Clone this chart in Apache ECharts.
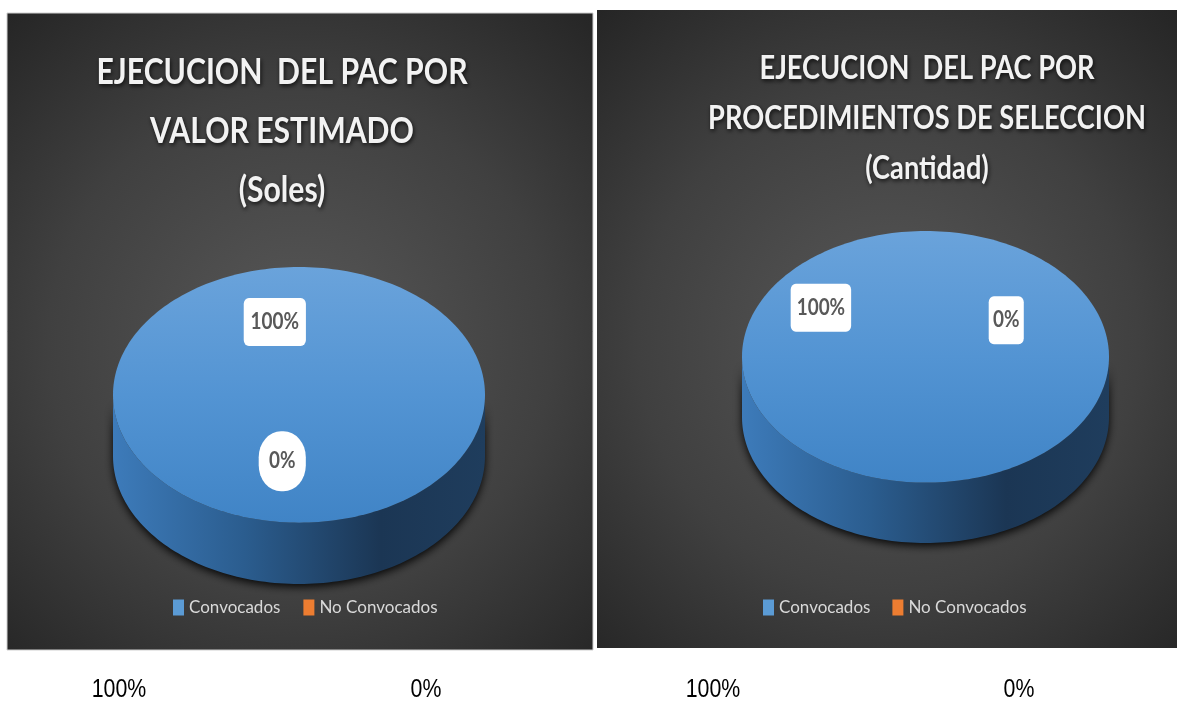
<!DOCTYPE html>
<html>
<head>
<meta charset="utf-8">
<script src="https://cdn.jsdelivr.net/npm/echarts@6/dist/echarts.min.js"></script>
<style>
  html, body { margin: 0; padding: 0; background: #fff; }
  #chart { width: 1177px; height: 702px; }
</style>
</head>
<body>
<div id="chart"></div>
<script>
// datos
const categories = ['Convocados', 'No Convocados'];
const valorEstimado = [100, 0];     // Soles (%)
const procedimientos = [100, 0];    // Cantidad (%)
const titleValor = 'EJECUCION  DEL PAC POR\nVALOR ESTIMADO\n(Soles)';
const titleProc = 'EJECUCION  DEL PAC POR\nPROCEDIMIENTOS DE SELECCION\n(Cantidad)';

const DEPTH = 0.48;
const colors = ['#5b9bd5', '#ed7d31'];

const pct = (vals, i) => {
  const total = vals.reduce((a, b) => a + b, 0);
  return Math.round(vals[i] / total * 100) + '%';
};

// posiciones de etiquetas (unidades del círculo) y cajas
const labelSpots = [
  [[-0.13, 0.57], [-0.09, -0.52]],
  [[-0.57, 0.39], [0.44, 0.29]]
];
const labelBoxes = [
  [{ padding: [13, 8], radius: 6 }, { padding: [19, 12], radius: 26 }],
  [{ padding: [13, 7], radius: 6 }, { padding: [13, 5], radius: 6 }]
];

function makeRender(values, k, spot, box) {
  return function (params, api) {
    const total = values.reduce((a, b) => a + b, 0);
    let before = 0;
    for (let i = 0; i < k; i++) before += values[i];
    const v = api.value(2);
    const a0 = before / total * Math.PI * 2;
    const a1 = (before + v) / total * Math.PI * 2;
    const pt = (t, dy) => api.coord([Math.sin(t), Math.cos(t) - dy]);
    const arc = (s, e, dy) => {
      const n = Math.max(2, Math.ceil((e - s) / (Math.PI / 120)));
      const pts = [];
      for (let j = 0; j <= n; j++) pts.push(pt(s + (e - s) * j / n, dy));
      return pts;
    };
    const children = [];
    if (a1 > a0) {
      const s = Math.max(a0, Math.PI / 2);
      const e = Math.min(a1, Math.PI * 1.5);
      if (e > s) {
        const sidePts = arc(s, e, 0).concat(arc(s, e, DEPTH).reverse());
        children.push({
          type: 'polygon',
          shape: { points: sidePts },
          style: {
            fill: new echarts.graphic.LinearGradient(0, 0, 1, 0, [
              { offset: 0, color: '#3d7bba' },
              { offset: 0.35, color: '#2b5d8f' },
              { offset: 0.72, color: '#1b3654' },
              { offset: 1, color: '#1f3d5d' }
            ]),
            shadowBlur: 8,
            shadowColor: 'rgba(0,0,0,0.9)',
            shadowOffsetY: 3
          }
        });
      }
      let topPts = arc(a0, a1, 0);
      if (a1 - a0 < Math.PI * 2 - 1e-6) topPts = [api.coord([0, 0])].concat(topPts);
      children.push({
        type: 'polygon',
        shape: { points: topPts },
        style: {
          fill: new echarts.graphic.LinearGradient(0, 0, 0, 1, [
            { offset: 0, color: '#6aa3db' },
            { offset: 0.5, color: '#5394d3' },
            { offset: 1, color: '#4084c6' }
          ])
        }
      });
    }
    const lp = api.coord(spot);
    children.push({
      type: 'text',
      x: lp[0],
      y: lp[1],
      scaleX: 0.86,
      z2: 20,
      style: {
        text: pct(values, k),
        align: 'center',
        verticalAlign: 'middle',
        fontSize: 22,
        fontWeight: 'bold',
        fontFamily: 'Lato',
        fill: '#595959',
        backgroundColor: '#ffffff',
        padding: box.padding,
        borderRadius: box.radius
      }
    });
    return { type: 'group', children };
  };
}

const charts = [valorEstimado, procedimientos];
const series = [];
charts.forEach((vals, c) => {
  categories.forEach((name, k) => {
    series.push({
      type: 'custom',
      name: name,
      coordinateSystem: 'cartesian2d',
      xAxisIndex: c,
      yAxisIndex: c,
      clip: false,
      silent: true,
      itemStyle: { color: colors[k] },
      data: [[0, 0, vals[k]]],
      renderItem: makeRender(vals, k, labelSpots[c][k], labelBoxes[c][k])
    });
  });
});

const panelFill = () => ({
  type: 'radial', x: 0.5, y: 0.52, r: 0.78,
  colorStops: [
    { offset: 0, color: '#585858' },
    { offset: 0.55, color: '#404040' },
    { offset: 1, color: '#232323' }
  ]
});

const bottomX = [119, 426, 713, 1019];
const bottomTexts = [pct(valorEstimado, 0), pct(valorEstimado, 1), pct(procedimientos, 0), pct(procedimientos, 1)];

const titleStyle = {
  fill: '#f2f2f2',
  fontWeight: 'bold',
  fontFamily: 'Lato',
  align: 'center',
  verticalAlign: 'middle',
  textShadowColor: 'rgba(0,0,0,0.75)',
  textShadowBlur: 4,
  textShadowOffsetX: 1,
  textShadowOffsetY: 2
};

const chart = echarts.init(document.getElementById('chart'));
chart.setOption({
  backgroundColor: '#ffffff',
  animation: false,
  graphic: [
    { type: 'rect', z: -10, shape: { x: 7, y: 13, width: 586, height: 637 }, style: { fill: panelFill(), stroke: '#cfcfcf', lineWidth: 1 } },
    { type: 'rect', z: -10, shape: { x: 597, y: 10, width: 582, height: 638 }, style: { fill: panelFill() } },
    { type: 'text', x: 282, y: 131, scaleX: 0.815,
      style: Object.assign({ text: titleValor, fontSize: 37, lineHeight: 59 }, titleStyle) },
    { type: 'text', x: 927, y: 118, scaleX: 0.825,
      style: Object.assign({ text: titleProc, fontSize: 33, lineHeight: 50 }, titleStyle) }
  ].concat(bottomTexts.map((t, i) => ({
    type: 'text',
    x: bottomX[i],
    y: 690,
    scaleX: 0.82,
    style: { text: t, align: 'center', verticalAlign: 'middle', fontSize: 26, fontFamily: 'Liberation Sans', fill: '#000' }
  }))),
  legend: [
    { data: categories, left: 168, top: 594, icon: 'rect', itemWidth: 11, itemHeight: 16, itemGap: 23, selectedMode: false,
      textStyle: { color: '#d9d9d9', fontSize: 17, fontFamily: 'Lato' } },
    { data: categories, left: 758, top: 594, icon: 'rect', itemWidth: 11, itemHeight: 16, itemGap: 22, selectedMode: false,
      textStyle: { color: '#d9d9d9', fontSize: 17, fontFamily: 'Lato' } }
  ],
  grid: [
    { left: 113, top: 267, width: 372, height: 317 },
    { left: 742, top: 231, width: 367, height: 312 }
  ],
  xAxis: [
    { type: 'value', min: -1, max: 1, show: false, gridIndex: 0 },
    { type: 'value', min: -1, max: 1, show: false, gridIndex: 1 }
  ],
  yAxis: [
    { type: 'value', min: -1 - DEPTH, max: 1, show: false, gridIndex: 0 },
    { type: 'value', min: -1 - DEPTH, max: 1, show: false, gridIndex: 1 }
  ],
  series: series
});
</script>
</body>
</html>
